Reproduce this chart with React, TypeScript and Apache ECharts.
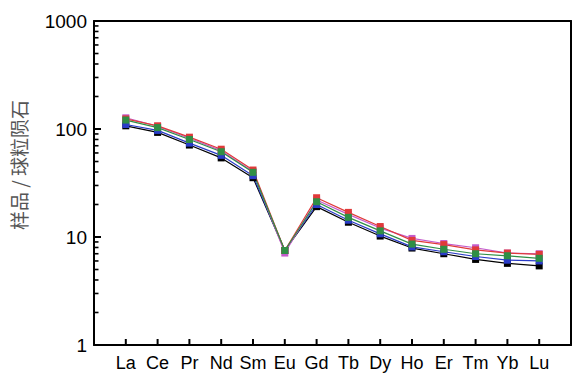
import React, { useEffect, useRef } from "react";
import * as echarts from "echarts";

const categories = ["La", "Ce", "Pr", "Nd", "Sm", "Eu", "Gd", "Tb", "Dy", "Ho", "Er", "Tm", "Yb", "Lu"];
const blackSeries = [107, 93, 71, 54, 35.4, 7.5, 19.1, 13.7, 10.2, 7.9, 7.0, 6.2, 5.7, 5.4];
const blueSeries = [110, 97, 74, 57, 37, 7.5, 20, 14.3, 10.7, 8.1, 7.3, 6.6, 6.1, 6.0];
const magentaSeries = [127, 106, 82, 63, 40.5, 7.1, 22, 16.2, 12.1, 9.7, 8.7, 7.95, 7.1, 7.0];
const redSeries = [124, 107, 84, 65, 41.7, 7.5, 23.1, 16.9, 12.5, 9.3, 8.5, 7.6, 7.1, 6.9];
const greenSeries = [121, 103, 80, 61.6, 39.7, 7.5, 21.2, 15.2, 11.4, 8.6, 7.7, 7.0, 6.7, 6.35];
const yTickLabels = [1, 10, 100, 1000];
const majorTickValues = [10, 100];
const minorTickValues = [2, 3, 4, 5, 6, 7, 8, 9, 20, 30, 40, 50, 60, 70, 80, 90, 200, 300, 400, 500, 600, 700, 800, 900];
const yTitle = "样品 / 球粒陨石";

const paddedCats = ["", ...categories, ""];
const pad = (arr: number[]) => [null, ...arr, null];

export default function App() {
  const ref = useRef<HTMLDivElement>(null);
  useEffect(() => {
    const chart = echarts.init(ref.current!, null, { renderer: "svg" });
    const mk = (name: string, data: number[], color: string) => ({
      name,
      type: "line",
      data: pad(data),
      symbol: "rect",
      symbolSize: 7,
      lineStyle: { color, width: 1.2 },
      itemStyle: { color },
      connectNulls: false,
    });
    const titleGraphic = {
      type: "text",
      x: 18,
      y: 165,
      rotation: Math.PI / 2,
      style: {
        text: yTitle,
        fontSize: 19,
        fill: "#555",
        fontFamily: "Noto Sans CJK SC, sans-serif",
        textAlign: "center",
        textVerticalAlign: "middle",
      },
    };
    const frameLine = { show: true, lineStyle: { color: "#000", width: 2 } };
    chart.setOption({
      animation: false,
      textStyle: { fontFamily: "Liberation Sans, Arial, sans-serif" },
      grid: { left: 94, right: 3, top: 21, bottom: 35 },
      xAxis: [
        {
          type: "category",
          data: paddedCats,
          boundaryGap: false,
          axisLine: { show: true, lineStyle: { color: "#000", width: 2 } },
          axisTick: { show: false },
          axisLabel: { color: "#000", fontSize: 18, margin: 9, interval: 0 },
          splitLine: { show: false },
        },
        {
          type: "category",
          position: "top",
          data: paddedCats,
          boundaryGap: false,
          axisLine: frameLine,
          axisTick: { show: false },
          axisLabel: { show: false },
          splitLine: { show: false },
        },
      ],
      yAxis: [
        {
          type: "log",
          logBase: 10,
          min: 1,
          max: 1000,
          axisLine: { show: true, lineStyle: { color: "#000", width: 2 } },
          axisTick: { show: false },
          axisLabel: {
            color: "#000",
            fontSize: 19,
            margin: 7,
            formatter: (v: number) => (yTickLabels.includes(Math.round(v)) ? String(Math.round(v)) : ""),
          },
          splitLine: { show: false },
        },
        {
          type: "log",
          logBase: 10,
          position: "right",
          min: 1,
          max: 1000,
          axisLine: frameLine,
          axisTick: { show: false },
          axisLabel: { show: false },
          splitLine: { show: false },
        },
      ],
      series: [
        mk("black", blackSeries, "#000000"),
        mk("blue", blueSeries, "#2a3cc8"),
        mk("magenta", magentaSeries, "#c45ccc"),
        mk("red", redSeries, "#e03a3a"),
        mk("green", greenSeries, "#2f8f45"),
      ],
    });
    const finder = { xAxisIndex: 0, yAxisIndex: 0 };
    const yTick = (v: number, len: number, w: number) => {
      const p = chart.convertToPixel(finder, [0, v]) as number[];
      return {
        type: "line",
        shape: { x1: p[0], y1: p[1], x2: p[0] + len, y2: p[1] },
        style: { stroke: "#000", lineWidth: w },
        z: 10,
      };
    };
    const xTicks = categories.map((c, i) => {
      const p = chart.convertToPixel(finder, [i + 1, 1]) as number[];
      return {
        type: "line",
        shape: { x1: p[0], y1: p[1], x2: p[0], y2: p[1] - 6 },
        style: { stroke: "#000", lineWidth: 2 },
        z: 10,
      };
    });
    const ticks = [
      ...majorTickValues.map((v) => yTick(v, 7, 2)),
      ...minorTickValues.map((v) => yTick(v, 4.5, 1.6)),
      ...xTicks,
    ];
    chart.setOption({ graphic: [titleGraphic, ...ticks] });
    return () => chart.dispose();
  }, []);
  return (
    <div
      ref={ref}
      style={{ position: "fixed", left: 0, top: 0, width: 574, height: 380, background: "#fff" }}
    />
  );
}
